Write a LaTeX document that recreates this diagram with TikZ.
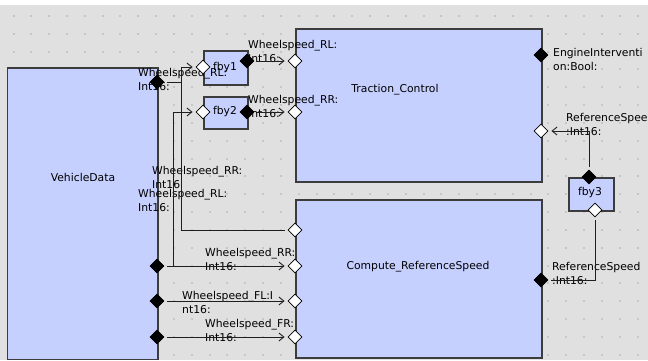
\documentclass[tikz,border=0pt]{standalone}
\usepackage{fontspec}
\newfontfamily\diafont{DejaVu Sans}
\usetikzlibrary{shapes.geometric,arrows.meta}
\definecolor{canvas}{HTML}{E0E0E0}
\definecolor{griddot}{HTML}{C6C6C6}
\definecolor{blockfill}{HTML}{C6D0FF}
\definecolor{edge}{HTML}{3C3C3C}
\tikzset{
  blk/.style={draw=edge, line width=1.5pt, fill=blockfill, anchor=north west, inner sep=0pt},
  inport/.style={diamond, aspect=1, minimum size=14pt, inner sep=0pt, draw=black, line width=0.8pt, fill=white},
  outport/.style={inport, fill=black},
  wire/.style={draw=black!88, line width=0.9pt, shorten <=3pt, shorten >=3pt},
  flow/.style={wire, -{Straight Barb[length=5pt,width=8pt]}},
  lbl/.style={font=\diafont\fontsize{10.8}{14.5}\selectfont, text=black, inner sep=0pt, align=left, anchor=north west},
  title/.style={font=\diafont\fontsize{10.8}{12}\selectfont, text=black, inner sep=0pt}
}
\begin{document}
\begin{tikzpicture}[x=1pt,y=-1pt]
% canvas and grid
\useasboundingbox (0,0) rectangle (648,360);
\fill[white] (0,0) rectangle (648,360);
\fill[canvas] (0,5) rectangle (648,360);
\foreach \i in {0,...,35}
  \foreach \j in {0,...,19}
    \fill[griddot] ({12.5+17.83*\i},{15+17.83*\j}) rectangle ++(2,2);

% blocks
\node[blk, minimum width=150.5pt, minimum height=291.5pt] (vd) at (6.5,67) {};
\node[blk, minimum width=44pt, minimum height=34pt] (fby1) at (203,50) {};
\node[blk, minimum width=44pt, minimum height=32pt] (fby2) at (203,96) {};
\node[blk, minimum width=246pt, minimum height=153pt] (tc) at (295,28) {};
\node[blk, minimum width=246pt, minimum height=158pt] (cr) at (295,199) {};
\node[blk, minimum width=45pt, minimum height=33pt] (fby3) at (568,177) {};

% block titles
\node[title] (vdT) at (83,177) {VehicleData};
\node[title] (f1T) at (225,68) {fby1};
\node[title] (f2T) at (225,112) {fby2};
\node[title] (f3T) at (590,193) {fby3};
\node[title] (tcT) at (395,90) {Traction\_Control};
\node[title] (crT) at (418,267) {Compute\_ReferenceSpeed};

% junction columns
\coordinate (busA) at (181.7,0);
\coordinate (busB) at (173.3,0);

% port labels
\node[lbl] (l1) at (248,40) {Wheelspeed\_RL:\\Int16:};
\node[lbl] (l2) at (248,95) {Wheelspeed\_RR:\\Int16:};
\node[lbl] (l3) at (138,68) {Wheelspeed\_RL:\\Int16:};
\node[lbl] (l4) at (553,48) {EngineInterventi\\on:Bool:};
\node[lbl] (l5) at (566,113) {ReferenceSpeed\\:Int16:};
\node[lbl] (l6) at (152,166) {Wheelspeed\_RR:\\Int16};
\node[lbl] (l7) at (138,189) {Wheelspeed\_RL:\\Int16:};
\node[lbl] (l8) at (205,248) {Wheelspeed\_RR:\\Int16:};
\node[lbl] (l9) at (182,291) {Wheelspeed\_FL:I\\nt16:};
\node[lbl] (l10) at (205,319) {Wheelspeed\_FR:\\Int16:};
\node[lbl] (l11) at (552,262) {ReferenceSpeed\\:Int16:};

% ports
\node[outport] (vd_rl) at (157,82) {};
\node[outport] (vd_rr) at (157,266) {};
\node[outport] (vd_fl) at (157,301) {};
\node[outport] (vd_fr) at (157,337) {};
\node[inport]  (f1_in)  at (203,67) {};
\node[outport] (f1_out) at (247,61) {};
\node[inport]  (f2_in)  at (203,112) {};
\node[outport] (f2_out) at (247,112) {};
\node[inport]  (tc_rl)  at (295,61) {};
\node[inport]  (tc_rr)  at (295,112) {};
\node[outport] (tc_eng) at (541,55) {};
\node[inport]  (tc_ref) at (541,131) {};
\node[inport]  (cr_rl)  at (295,230) {};
\node[inport]  (cr_rr)  at (295,266) {};
\node[inport]  (cr_fl)  at (295,301) {};
\node[inport]  (cr_fr)  at (295,337) {};
\node[outport] (cr_out) at (541,280) {};
\node[outport] (f3_out) at (589,177) {};
\node[inport]  (f3_in)  at (595,210) {};

% connectors
\draw[wire] (vd_rl.east) -- (vd_rl.east -| busA) -- (busA |- cr_rl) -- (cr_rl.west);
\draw[flow, shorten <=0pt] (busA |- vd_rl) -- (busA |- f1_in) -- (f1_in.west);
\draw[flow] (vd_rr.east) -- (cr_rr.west);
\draw[flow, shorten <=0pt] (busB |- vd_rr) -- (busB |- f2_in) -- (f2_in.west);
\draw[flow] (vd_fl.east) -- (cr_fl.west);
\draw[flow] (vd_fr.east) -- (cr_fr.west);
\draw[flow] (f1_out.east) -- (tc_rl.west);
\draw[flow] (f2_out.east) -- (tc_rr.west);
\draw[flow] (f3_out.north) |- (tc_ref.east);
\draw[wire] (cr_out.east) -| (f3_in.south);
\end{tikzpicture}
\end{document}
